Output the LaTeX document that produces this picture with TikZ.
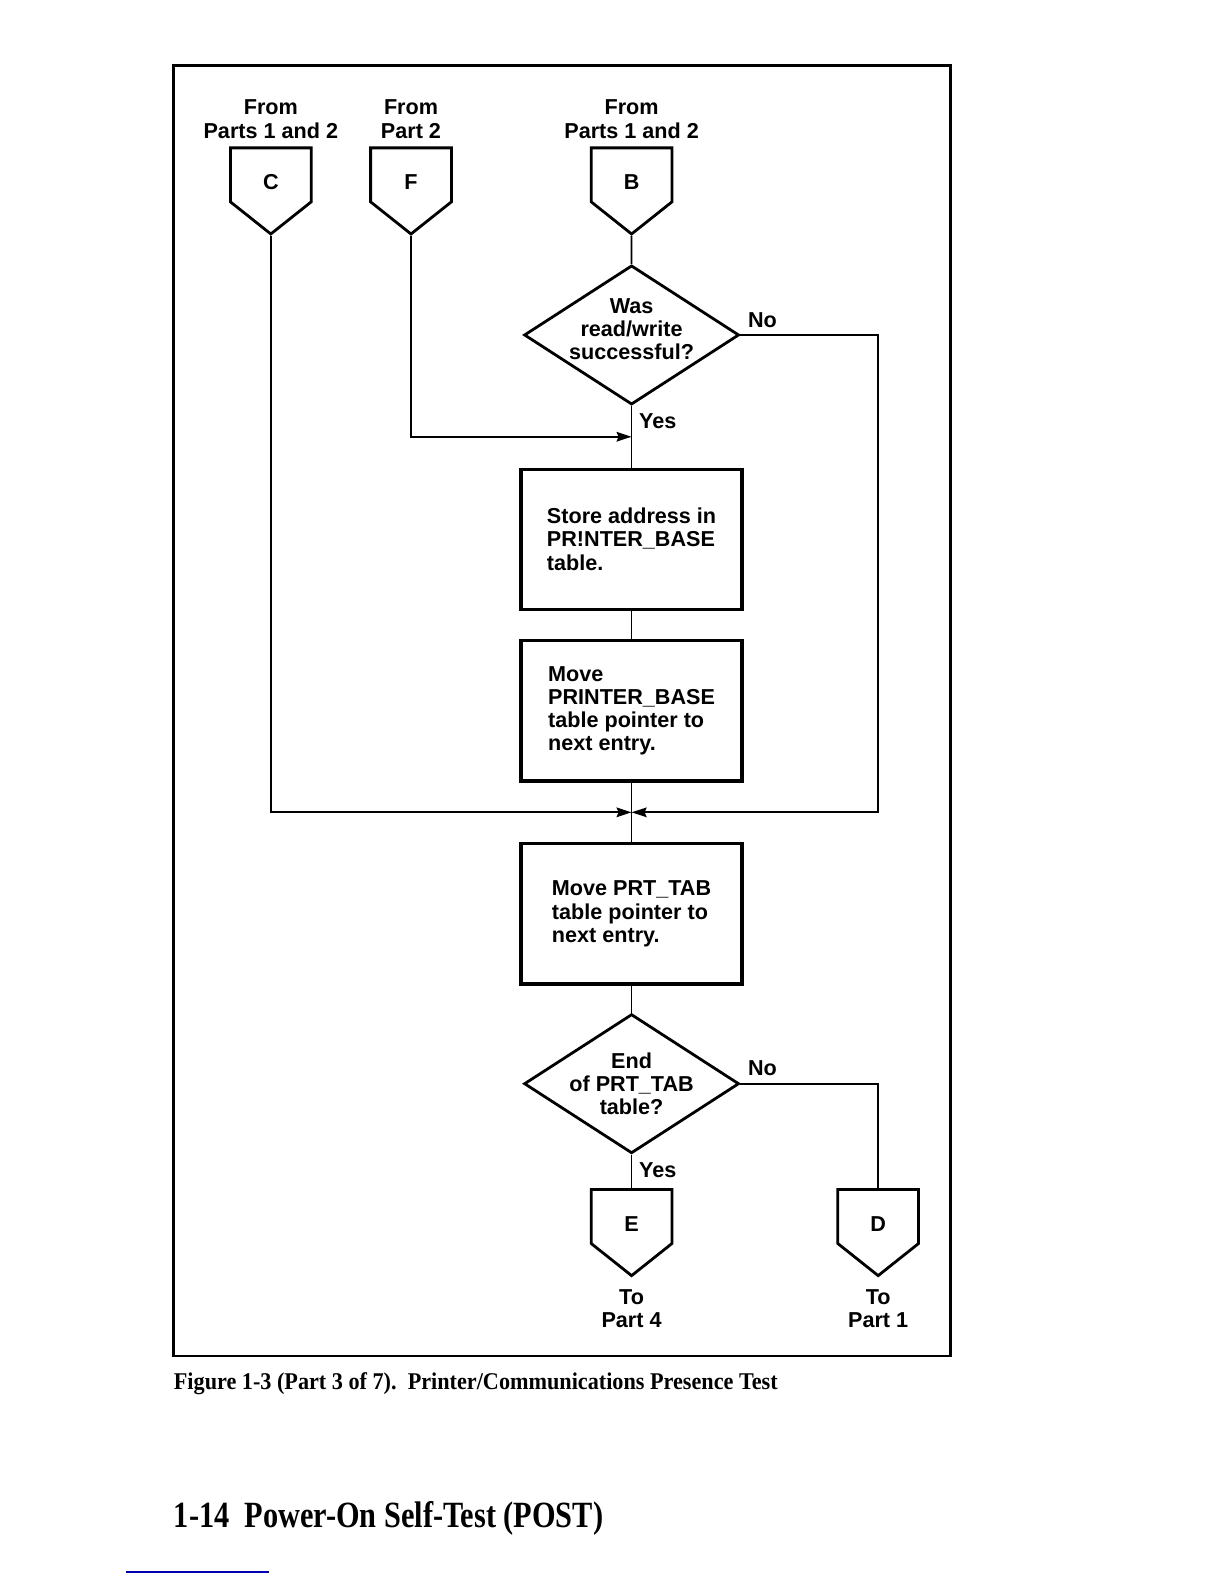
\documentclass[tikz,border=0pt]{standalone}
\usepackage{fontspec}
\setsansfont{Liberation Sans}
\newfontfamily\capfont[FakeStretch=0.925]{Liberation Serif}
\newfontfamily\footfont[FakeStretch=0.82]{Liberation Serif}
\usepackage{tikz}
\usetikzlibrary{
    shapes.geometric,
    shapes.symbols,
    arrows.meta,
    positioning,
    calc
}
\tikzstyle{box} = [
    rectangle, draw,
    line width=1.6pt,
    minimum width=110.5pt,
    minimum height=70.1pt,
    align=left
]
\tikzstyle{decision} = [
    diamond,
    aspect=1.55,
    draw,
    line width=1.4pt,
    minimum width=107.5pt,
    minimum height=69.6pt,
    inner sep=-1pt,
    align=center
]
\tikzstyle{offpage} = [
    signal,
    signal to=south,
    signal pointer angle=103,
    draw,
    line width=1.4pt,
    minimum width=0pt,
    minimum height=0pt,
    text width=8pt,
    text height=14.7pt,
    text depth=0pt,
    align=center,
    inner xsep=16.2pt,
    inner ysep=6.15pt
]
\tikzstyle{tag} = [
    align=center
]
\tikzstyle{flow} = [
    line width=0.9pt
]
\tikzstyle{arrow} = [
    line width=0.9pt,
    -{Stealth[length=7.5pt, width=4.8pt, inset=1pt]}
]

\begin{document}
\begin{tikzpicture}[x=0.5045pt, y=-0.5045pt, font=\sffamily\bfseries\fontsize{10.8}{11.6}\selectfont]
\useasboundingbox (0,0) rectangle (1213,1570);

% Rahmen
\draw [line width=1.3pt] (172,65) rectangle (942,1344);

\node (check1) [decision, text depth=6pt, inner ysep=-4.5pt] at (626,332)
    {Was\\read/write\\successful?};
\node (conB) [offpage, above=14.1pt of check1] {B};
\node (conF) [offpage, left=68.5pt of conB] {F};
\node (conC) [offpage, left=28.3pt of conF] {C};

\node (fromB) [tag, above=0.5pt of conB] {From\\Parts 1 and 2};
\node (fromF) [tag, above=0.5pt of conF] {From\\Part 2};
\node (fromC) [tag, above=0.5pt of conC] {From\\Parts 1 and 2};

\node (store) [box, below=30.8pt of check1]
    {Store address in\\PR!NTER\_BASE\\table.};
\node (moveBase) [box, below=14.1pt of store]
    {Move\\PRINTER\_BASE\\table pointer to\\next entry.};
\node (movePrt) [box, below=29.8pt of moveBase]
    {Move PRT\_TAB\\table pointer to\\next entry.};
\node (check2) [decision, below=13.6pt of movePrt]
    {End\\of PRT\_TAB\\table?};
\node (conE) [offpage, below=16.7pt of check2] {E};
\node (conD) [offpage, right=81.5pt of conE] {D};

\node (toE) [tag, below=2.5pt of conE] {To\\Part 4};
\node (toD) [tag, below=2.5pt of conD] {To\\Part 1};

\coordinate (joinF) at ($(check1.south)!0.5!(store.north)$);
\coordinate (joinC) at ($(moveBase.south)!0.5!(movePrt.north)$);

\draw [flow] (conB) -- (check1);
\draw [flow] (check1.south) node[tag, below right] {Yes} -- (store.north);
\draw [arrow] (conF.south) |- (joinF);
\draw [flow] (store) -- (moveBase);
\draw [flow] (moveBase) -- (movePrt);
\draw [arrow] (conC.south) |- (joinC);
\draw [arrow] (check1.east) node[tag, above right] {No}
              -- (check1.east -| conD) |- (joinC);
\draw [flow] (movePrt) -- (check2);
\draw [flow] (check2.south) node[tag, below right] {Yes} -- (conE.north);
\draw [flow] (check2.east) node[tag, above right] {No} -| (conD.north);

% Bildunterschrift
\node (caption) [anchor=west, inner sep=0pt, font=\capfont\bfseries\fontsize{12}{14}\selectfont]
    at (172,1371) {Figure 1-3 (Part 3 of 7).\ \ Printer/Communications Presence Test};
\node (footer) [anchor=west, inner sep=0pt, font=\footfont\bfseries\fontsize{18.5}{22}\selectfont]
    at (172,1505) {1-14\ \ Power-On Self-Test (POST)};
\draw [blue!70!black, line width=1pt] (125,1558) -- (267,1558);

\end{tikzpicture}
\end{document}
